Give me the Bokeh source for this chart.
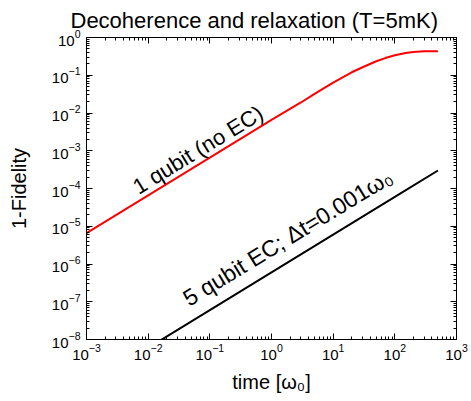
import math
from bokeh.plotting import figure
from bokeh.models import LogAxis, FixedTicker, Label, Range1d, CustomJSTickFormatter
from bokeh.embed import file_html
from bokeh.resources import INLINE

# ---- data ----
time_1q = [1e-3, 1e-2, 1e-1, 1e0, 3e0, 5e0, 7e0, 1e1, 1.5e1, 2e1, 3e1, 5e1, 7e1, 1e2, 1.5e2, 2e2, 3e2, 4e2, 5e2]
infid_1q = [6.6e-6, 6.6e-5, 6.6e-4, 6.6e-3, 1.9e-2, 3.2e-2, 4.5e-2, 6.4e-2, 9.2e-2, 0.12, 0.163, 0.235, 0.285,
            0.34, 0.39, 0.415, 0.43, 0.434, 0.435]

time_5q = [1e-2, 1e-1, 1e0, 1e1, 1e2, 5e2]
infid_5q = [6.0e-9, 6.0e-8, 6.0e-7, 6.0e-6, 6.0e-5, 3.0e-4]

x_major = [10.0 ** k for k in range(-3, 4)]
y_major = [10.0 ** k for k in range(-8, 1)]
x_minor = [m * 10.0 ** k for k in range(-3, 3) for m in range(2, 10)]
y_minor = [m * 10.0 ** k for k in range(-8, 0) for m in range(2, 10)]

title_text = "Decoherence and relaxation (T=5mK)"
xlabel = "time [ω₀]"
ylabel = "1-Fidelity"
label_1q = "1 qubit (no EC)"
label_5q = "5 qubit EC; Δt=0.001ω₀"

FONT = "Liberation Sans"

p = figure(frame_width=370, frame_height=302,
           x_axis_type="log", y_axis_type="log",
           x_range=Range1d(1e-3, 1e3), y_range=Range1d(1e-8, 1),
           min_border_left=86, min_border_right=15, min_border_top=37, min_border_bottom=62,
           output_backend="svg", toolbar_location=None)

p.title.text = title_text
p.title.text_font = FONT
p.title.text_font_size = "22px"
p.title.text_font_style = "normal"
p.title.text_color = "black"
p.title.align = "left"
p.title.offset = -16
p.title.standoff = 10

p.grid.visible = False
p.outline_line_color = "black"
p.outline_line_width = 1
p.background_fill_color = "white"
p.border_fill_color = "white"

xt = FixedTicker(ticks=x_major, minor_ticks=x_minor)
yt = FixedTicker(ticks=y_major, minor_ticks=y_minor)

def style_axis(ax, ticker, show_labels):
    ax.ticker = ticker
    ax.axis_line_color = "black"
    ax.major_tick_line_color = "black"
    ax.minor_tick_line_color = "black"
    ax.major_tick_in = 6
    ax.major_tick_out = 0
    ax.minor_tick_in = 3
    ax.minor_tick_out = 0
    if show_labels:
        ax.major_label_text_font = FONT
        ax.major_label_text_font_size = "15px"
        ax.major_label_text_color = "black"
        ax.axis_label_text_font = FONT
        ax.axis_label_text_font_size = "20px"
        ax.axis_label_text_font_style = "normal"
        ax.axis_label_text_color = "black"
    else:
        ax.formatter = CustomJSTickFormatter(code="return ''")
        ax.major_label_text_font_size = "1px"
        ax.major_label_text_color = None
        ax.major_label_standoff = 0

xa = p.xaxis[0]
style_axis(xa, xt, True)
xa.axis_label = xlabel
xa.major_label_standoff = 4
xa.axis_label_standoff = 8

ya = p.yaxis[0]
style_axis(ya, yt, True)
ya.axis_label = ylabel
ya.major_label_standoff = 6
ya.axis_label_standoff = 19

top = LogAxis()
style_axis(top, xt, False)
p.add_layout(top, "above")
right = LogAxis()
style_axis(right, yt, False)
p.add_layout(right, "right")

p.line(time_1q, infid_1q, line_color="#ff0000", line_width=2)
p.line(time_5q, infid_5q, line_color="black", line_width=2)

ang = math.degrees(math.atan((302 / 8) / (370 / 6)))
p.add_layout(Label(x=10 ** -2.216, y=10 ** -4.0, text=label_1q, angle=ang, angle_units="deg",
                   text_font=FONT, text_font_size="22px", text_align="left",
                   text_baseline="alphabetic", text_color="black"))
p.add_layout(Label(x=10 ** -1.40, y=10 ** -6.96, text=label_5q, angle=ang, angle_units="deg",
                   text_font=FONT, text_font_size="23px", text_align="left",
                   text_baseline="alphabetic", text_color="black"))

open("out.html", "w").write(file_html(p, INLINE))
